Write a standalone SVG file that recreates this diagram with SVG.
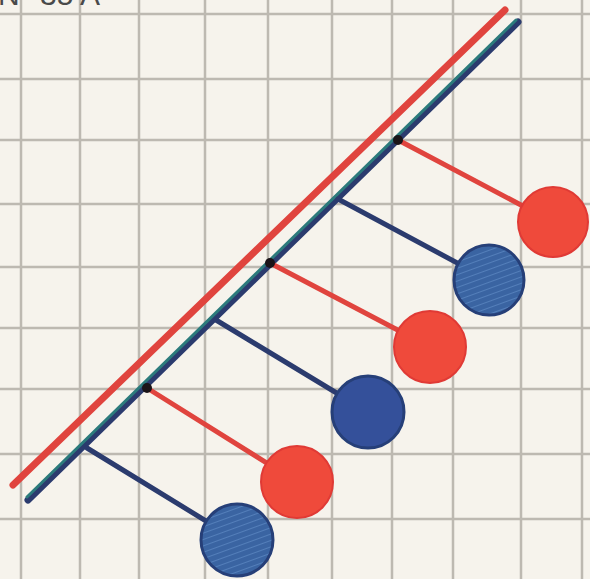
<svg xmlns="http://www.w3.org/2000/svg" width="590" height="579" viewBox="0 0 590 579">
<style>
.grid{stroke:#bdb9b1;stroke-width:2.5;fill:none}
.red{stroke:#e0443e;stroke-linecap:round;fill:none}
.navy{stroke:#2b3b6e;stroke-linecap:round;fill:none}
.teal{stroke:#2c7b7c;stroke-linecap:round;fill:none}
.rb{fill:#ef4a3b;stroke:#e03a35;stroke-width:2}
.bb{fill:url(#hatch);stroke:#263f78;stroke-width:3}
.dot{fill:#1a1418}
.lbl{font-family:"Liberation Sans",Arial,sans-serif;font-size:30px;fill:#4a4a4a}
</style>
<defs>
<pattern id="hatch" patternUnits="userSpaceOnUse" width="6" height="6" patternTransform="rotate(70)">
<rect width="6" height="6" fill="#3a64a2"/>
<line x1="0" y1="0" x2="0" y2="6" stroke="#5b86c0" stroke-width="1.6"/>
</pattern>
</defs>
<rect width="590" height="579" fill="#f6f3ec"/>
<g id="grid" class="grid">
<line x1="21" y1="0" x2="21" y2="579"/>
<line x1="80" y1="0" x2="80" y2="579"/>
<line x1="139" y1="0" x2="139" y2="579"/>
<line x1="205" y1="0" x2="205" y2="579"/>
<line x1="268" y1="0" x2="268" y2="579"/>
<line x1="332" y1="0" x2="332" y2="579"/>
<line x1="392" y1="0" x2="392" y2="579"/>
<line x1="453" y1="0" x2="453" y2="579"/>
<line x1="521" y1="0" x2="521" y2="579"/>
<line x1="582" y1="0" x2="582" y2="579"/>
<line x1="0" y1="14" x2="590" y2="14"/>
<line x1="0" y1="79" x2="590" y2="79"/>
<line x1="0" y1="140" x2="590" y2="140"/>
<line x1="0" y1="204" x2="590" y2="204"/>
<line x1="0" y1="267" x2="590" y2="267"/>
<line x1="0" y1="328" x2="590" y2="328"/>
<line x1="0" y1="389" x2="590" y2="389"/>
<line x1="0" y1="454" x2="590" y2="454"/>
<line x1="0" y1="519" x2="590" y2="519"/>
</g>
<text class="lbl" x="-2" y="5">N° 35 A</text>
<g id="rails">
<line class="red" x1="13" y1="485" x2="505" y2="10" stroke-width="7"/>
<line class="navy" x1="28" y1="500" x2="518" y2="22" stroke-width="7"/>
<line class="teal" x1="27" y1="497" x2="516" y2="20" stroke-width="3"/>
</g>
<g id="connectors">
<line class="red" x1="398" y1="140" x2="553" y2="222" stroke-width="5"/>
<line class="red" x1="270" y1="263" x2="430" y2="347" stroke-width="5"/>
<line class="red" x1="147" y1="388" x2="297" y2="482" stroke-width="5"/>
<line class="navy" x1="338" y1="199" x2="489" y2="280" stroke-width="5"/>
<line class="navy" x1="216" y1="320" x2="368" y2="412" stroke-width="5"/>
<line class="navy" x1="87" y1="448" x2="237" y2="540" stroke-width="5"/>
<circle class="dot" cx="398" cy="140" r="5"/>
<circle class="dot" cx="270" cy="263" r="5"/>
<circle class="dot" cx="147" cy="388" r="5"/>
</g>
<g id="red-ball-1"><circle class="rb" cx="553" cy="222" r="35"/></g>
<g id="blue-ball-1"><circle class="bb" cx="489" cy="280" r="35"/></g>
<g id="red-ball-2"><circle class="rb" cx="430" cy="347" r="36"/></g>
<g id="blue-ball-2"><circle class="bb" cx="368" cy="412" r="36" style="fill:#34509a"/></g>
<g id="red-ball-3"><circle class="rb" cx="297" cy="482" r="36"/></g>
<g id="blue-ball-3"><circle class="bb" cx="237" cy="540" r="36"/></g>
</svg>
